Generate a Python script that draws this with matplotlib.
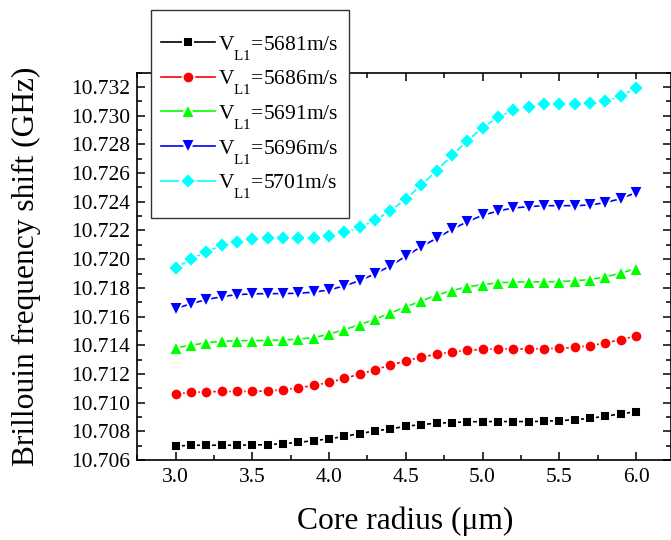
import matplotlib
matplotlib.use("Agg")
import matplotlib.pyplot as plt
from matplotlib.ticker import MultipleLocator, FormatStrFormatter
from matplotlib.patches import Rectangle
import matplotlib._mathtext as _mt

plt.rcParams['font.family'] = ['Liberation Serif', 'DejaVu Serif']
plt.rcParams['mathtext.fontset'] = 'custom'
plt.rcParams['mathtext.rm'] = 'Liberation Serif'
plt.rcParams['mathtext.it'] = 'Liberation Serif:italic'
# lower subscripts a bit more (Origin-like look)
_mt.FontConstantsBase.sub1 = 1.0

radius = [3.0, 3.1, 3.2, 3.3, 3.4, 3.5, 3.6, 3.7, 3.8, 3.9, 4.0,
          4.1, 4.2, 4.3, 4.4, 4.5, 4.6, 4.7, 4.8, 4.9, 5.0,
          5.1, 5.2, 5.3, 5.4, 5.5, 5.6, 5.7, 5.8, 5.9, 6.0]

v5681 = [10.70696, 10.70703, 10.70703, 10.70703, 10.70703, 10.70705, 10.70707, 10.70714,
         10.70723, 10.70735, 10.70747, 10.70765, 10.70784, 10.70803, 10.70817, 10.70835,
         10.70847, 10.70856, 10.70861, 10.70866, 10.70868, 10.70868, 10.70868, 10.70868,
         10.70870, 10.70875, 10.70880, 10.70891, 10.70905, 10.70922, 10.70936]
v5686 = [10.71061, 10.71071, 10.71075, 10.71078, 10.71078, 10.71078, 10.71082, 10.71089,
         10.71103, 10.71120, 10.71141, 10.71169, 10.71199, 10.71229, 10.71262, 10.71290,
         10.71318, 10.71336, 10.71353, 10.71364, 10.71371, 10.71374, 10.71374, 10.71374,
         10.71376, 10.71378, 10.71385, 10.71397, 10.71415, 10.71439, 10.71464]
v5691 = [10.71383, 10.71399, 10.71418, 10.71427, 10.71432, 10.71432, 10.71434, 10.71436,
         10.71443, 10.71453, 10.71478, 10.71509, 10.71544, 10.71581, 10.71625, 10.71667,
         10.71709, 10.71749, 10.71781, 10.71807, 10.71823, 10.71835, 10.71840, 10.71842,
         10.71842, 10.71844, 10.71849, 10.71858, 10.71877, 10.71902, 10.71935]
v5696 = [10.71655, 10.71690, 10.71718, 10.71739, 10.71753, 10.71758, 10.71760, 10.71760,
         10.71763, 10.71770, 10.71786, 10.71814, 10.71851, 10.71898, 10.71954, 10.72021,
         10.72087, 10.72145, 10.72208, 10.72261, 10.72306, 10.72336, 10.72357, 10.72366,
         10.72373, 10.72373, 10.72373, 10.72378, 10.72394, 10.72422, 10.72464]
v5701 = [10.71940, 10.72000, 10.72052, 10.72096, 10.72121, 10.72140, 10.72145, 10.72145,
         10.72145, 10.72149, 10.72161, 10.72187, 10.72222, 10.72271, 10.72338, 10.72420,
         10.72515, 10.72618, 10.72723, 10.72825, 10.72916, 10.72991, 10.73037, 10.73063,
         10.73079, 10.73081, 10.73081, 10.73086, 10.73102, 10.73135, 10.73193]

labels = ['V$_{\\mathrm{L1}}$=5681m/s', 'V$_{\\mathrm{L1}}$=5686m/s',
          'V$_{\\mathrm{L1}}$=5691m/s', 'V$_{\\mathrm{L1}}$=5696m/s',
          'V$_{\\mathrm{L1}}$=5701m/s']
series = [v5681, v5686, v5691, v5696, v5701]
colors = ['#000000', '#ff0000', '#00ff00', '#0000ff', '#00ffff']
markers = ['s', 'o', '^', 'v', 'D']
# marker sizes include a thin white halo that gives the Origin-style gap
msizes = [7.4, 8.4, 10.3, 10.3, 8.4]

W, H = 671, 540
fig = plt.figure(figsize=(W / 100, H / 100), dpi=100)
ax = fig.add_axes([137.3 / W, 1 - 460 / H, (671 - 137.3) / W, (460 - 72.7) / H])

for ys, c, m, ms, lab in zip(series, colors, markers, msizes, labels):
    ax.plot(radius, ys, color=c, marker=m, markersize=ms, linewidth=1.2,
            markerfacecolor=c, markeredgecolor='white', markeredgewidth=1.4,
            label=lab, clip_on=False)

ax.set_xlim(2.75, 6.228)
ax.set_ylim(10.706, 10.733)
ax.xaxis.set_major_locator(MultipleLocator(0.5))
ax.xaxis.set_minor_locator(MultipleLocator(0.25))
ax.yaxis.set_major_locator(MultipleLocator(0.002))
ax.yaxis.set_minor_locator(MultipleLocator(0.001))
ax.xaxis.set_major_formatter(FormatStrFormatter('%.1f'))
ax.yaxis.set_major_formatter(FormatStrFormatter('%.3f'))

ax.tick_params(which='both', direction='in', top=True, right=True, width=1.1,
               labelsize=15.5, colors='black')
ax.tick_params(which='major', length=6)
ax.tick_params(which='minor', length=3.5)
ax.tick_params(axis='x', which='major', pad=6)
ax.tick_params(axis='y', which='major', pad=5)
for sp in ax.spines.values():
    sp.set_linewidth(1.2)

ax.set_xlabel('Core radius (\u03bcm)', fontsize=22.7)
ax.set_ylabel('Brillouin frequency shift (GHz)', fontsize=22.7)
ax.xaxis.set_label_coords(0.5025, -0.121)
ax.yaxis.set_label_coords(-0.18, 0.501)

leg = fig.legend(loc='upper left', bbox_to_anchor=(160.7 / W, 1 - 33.5 / H),
                 frameon=False, fontsize=15.5, borderpad=0, borderaxespad=0,
                 handlelength=2.5, handletextpad=0.17, labelspacing=0.31)
leg.set_zorder(6)
fig.add_artist(Rectangle((150.7 / W, 1 - 218 / H), (349 - 150.7) / W, (218 - 10) / H,
                         transform=fig.transFigure, facecolor='white', edgecolor='#333333',
                         linewidth=1.0, zorder=4))

fig.savefig('out.png', dpi=100)
